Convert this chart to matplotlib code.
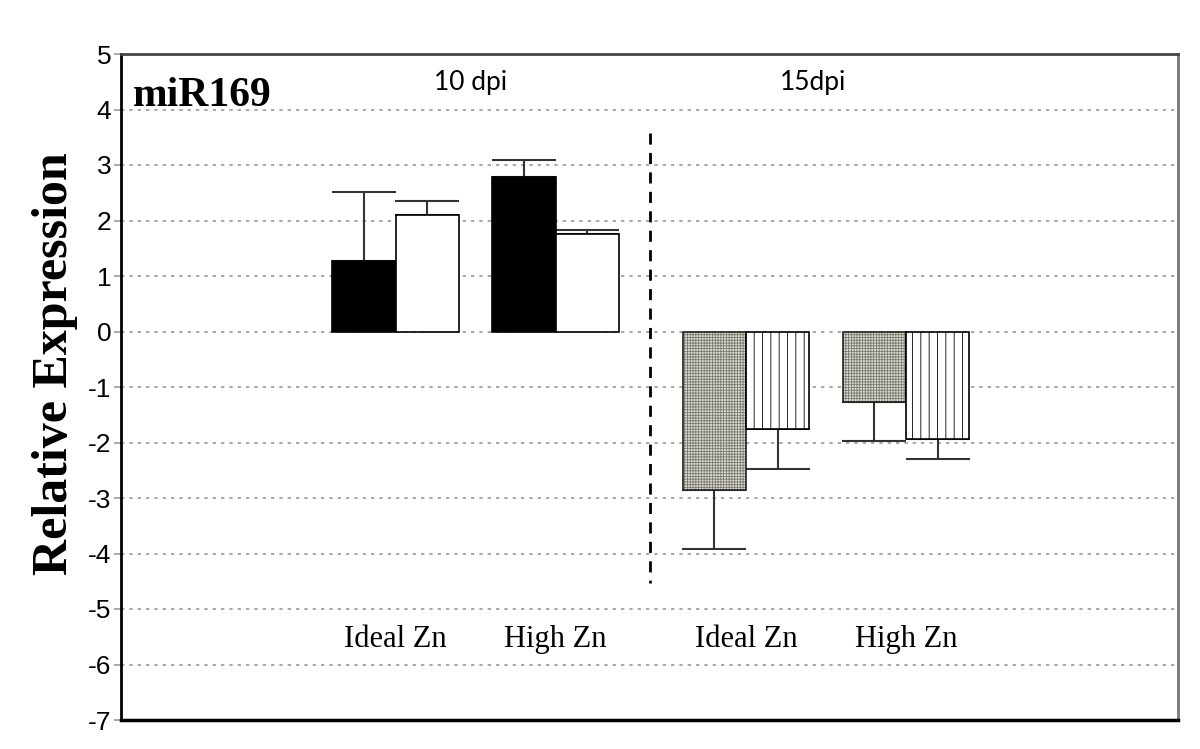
import numpy as np
import matplotlib.pyplot as plt

# ====================== 数据 ======================
group_labels = ["Ideal Zn", "High Zn", "Ideal Zn", "High Zn"]
group_pos = [0.0, 1.0, 2.19, 3.19]

dpi10_a = [1.27, 2.78]        # black bars
dpi10_a_err = [1.24, 0.31]
dpi10_b = [2.10, 1.76]        # white bars
dpi10_b_err = [0.25, 0.07]

dpi15_a = [-2.86, -1.27]      # stippled bars
dpi15_a_err = [1.06, 0.70]
dpi15_b = [-1.76, -1.94]      # vertical line bars
dpi15_b_err = [0.72, 0.36]

yticks = list(range(-7, 6))

# ====================== 绘图 ======================
plt.rcParams['hatch.linewidth'] = 0.6

fig = plt.figure(figsize=(12, 7.49), dpi=100)
ax = fig.add_axes([121 / 1200, 29 / 749, 1057 / 1200, 666 / 749])

w = 0.395
x10 = np.array(group_pos[:2])
x15 = np.array(group_pos[2:])

ax.bar(x10 - w / 2, dpi10_a, w, color='black', edgecolor='black', linewidth=1.2, zorder=3)
ax.bar(x10 + w / 2, dpi10_b, w, color='white', edgecolor='black', linewidth=1.2, zorder=3)
# stippled: grey hatch first, then black outline
ax.bar(x15 - w / 2, dpi15_a, w, color='#dcdcd0', edgecolor='#7a7a72', hatch='++++++',
       linewidth=0, zorder=3)
ax.bar(x15 - w / 2, dpi15_a, w, fill=False, edgecolor='#222222', linewidth=1.2, zorder=3)
ax.bar(x15 + w / 2, dpi15_b, w, color='white', edgecolor='black', hatch='||',
       linewidth=1.2, zorder=3)

cap = w * 160 / 2 * 0.72  # half bar width in points
err_kw = dict(fmt='none', ecolor='#333333', elinewidth=1.5, capsize=cap, capthick=1.5, zorder=2)
ax.errorbar(x10 - w / 2, dpi10_a, yerr=[np.zeros(2), dpi10_a_err], **err_kw)
ax.errorbar(x10 + w / 2, dpi10_b, yerr=[np.zeros(2), dpi10_b_err], **err_kw)
ax.errorbar(x15 - w / 2, dpi15_a, yerr=[dpi15_a_err, np.zeros(2)], **err_kw)
ax.errorbar(x15 + w / 2, dpi15_b, yerr=[dpi15_b_err, np.zeros(2)], **err_kw)

# 分隔线
ax.plot([1.59, 1.59], [3.58, -4.53], color='black', linestyle=(0, (4, 3)), linewidth=2, zorder=4)

ax.set_xlim(-1.716, 4.89)
ax.set_ylim(-7, 5)
ax.set_yticks(yticks)
ax.set_yticklabels([str(t) for t in yticks], fontsize=19, family='Liberation Sans')
ax.set_xticks([])
ax.tick_params(axis='y', length=5, width=1.2, color='#999999', pad=2)

for t in yticks[1:-1]:
    ax.axhline(t, color='#999999', linestyle=(0, (2, 3)), linewidth=1.2, zorder=1)

for side in ['left', 'bottom']:
    ax.spines[side].set_color('black')
ax.spines['left'].set_linewidth(2)
ax.spines['bottom'].set_linewidth(2.5)
ax.spines['top'].set_color('#444444')
ax.spines['top'].set_linewidth(2)
ax.spines['right'].set_color('#777777')
ax.spines['right'].set_linewidth(2)

for x, lab in zip(group_pos, group_labels):
    ax.text(x, -5.55, lab, ha='center', va='center', fontsize=22, family='Liberation Serif')

ax.text(0.011, 0.965, 'miR169', transform=ax.transAxes, ha='left', va='top',
        fontsize=30, fontweight='bold', family='Liberation Serif')
ax.text(0.47, 4.48, '10 dpi', ha='center', va='center', fontsize=19, family='Lato')
ax.text(2.61, 4.48, '15dpi', ha='center', va='center', fontsize=19, family='Lato')

ax.set_ylabel('Relative Expression', fontsize=36, fontweight='bold', family='Liberation Serif')
ax.yaxis.set_label_coords(-0.041, 0.535)

fig.savefig('out.png', dpi=100)
